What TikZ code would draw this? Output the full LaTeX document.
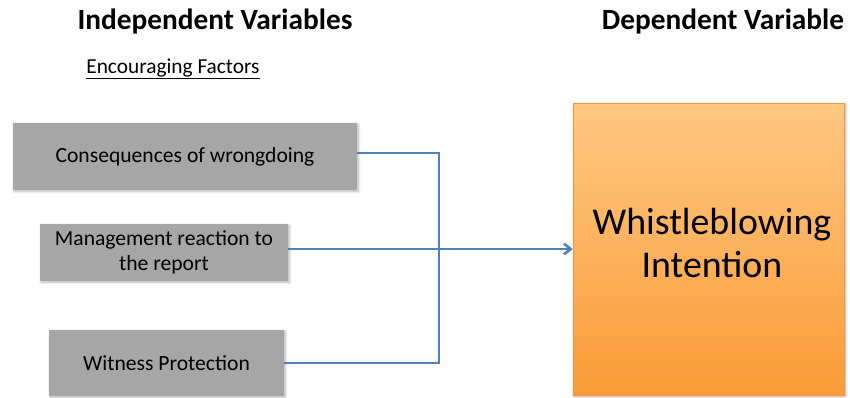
\documentclass[tikz,border=0pt]{standalone}
\usepackage{fontspec}
\setmainfont{Carlito}
\usepackage{tikz}
\usetikzlibrary{positioning, arrows.meta, shadows.blur}
\definecolor{factorgray}{RGB}{166,166,166}
\definecolor{linkblue}{RGB}{79,129,189}
\definecolor{outcometop}{RGB}{255,200,130}
\definecolor{outcomebottom}{RGB}{250,155,55}
\definecolor{outcomeedge}{RGB}{240,150,70}

\begin{document}
\begin{tikzpicture}[x=0.75pt, y=-0.75pt,
    heading/.style={font=\bfseries\fontsize{22}{26}\selectfont},
    factor/.style={fill=factorgray, inner sep=0pt, align=center,
      font=\fontsize{16.2}{19}\selectfont,
      blur shadow={shadow xshift=1pt, shadow yshift=-1pt, shadow blur steps=6, shadow opacity=30}},
    outcome/.style={top color=outcometop, bottom color=outcomebottom, draw=outcomeedge,
      line width=0.4pt, inner sep=0pt,
      blur shadow={shadow xshift=1pt, shadow yshift=-1pt, shadow blur steps=6, shadow opacity=35}},
    link/.style={linkblue, line width=2pt}]
  \useasboundingbox (0,0) rectangle (850,397);

  % column headings
  \node[heading] (indep) at (215,22) {Independent Variables};
  \node[heading] (dep) at (723,22) {Dependent Variable};
  \node[font=\fontsize{16}{19}\selectfont] (encour) at (173,69) {\underline{Encouraging Factors}};

  % independent variables
  \node[factor, minimum width=0.75*344pt, minimum height=0.75*67pt] (conseq) at (185,156.5)
    {Consequences of wrongdoing};
  \node[factor, minimum width=0.75*248pt, minimum height=0.75*57pt] (mgmt) at (164,252.5)
    {Management reaction to\\the report};
  \node[factor, minimum width=0.75*235pt, minimum height=0.75*66pt] (protect) at (166.5,363)
    {Witness Protection};

  % dependent variable
  \node[outcome, minimum width=0.75*271pt, minimum height=0.75*292pt] (intent) at (708.5,249) {};
  \node[align=center, font=\fontsize{28.4}{32}\selectfont] (intentlbl) at (712,243)
    {Whistleblowing\\Intention};

  % connectors
  \coordinate (bend) at (439,0);
  \draw[link] (conseq.east |- 0,153) -| (bend |- protect.east) -- (protect.east);
  \draw[link, -{Straight Barb[length=5pt, width=8pt]}] (mgmt.east |- 0,249) -- (intent.west |- 0,249);
\end{tikzpicture}
\end{document}
